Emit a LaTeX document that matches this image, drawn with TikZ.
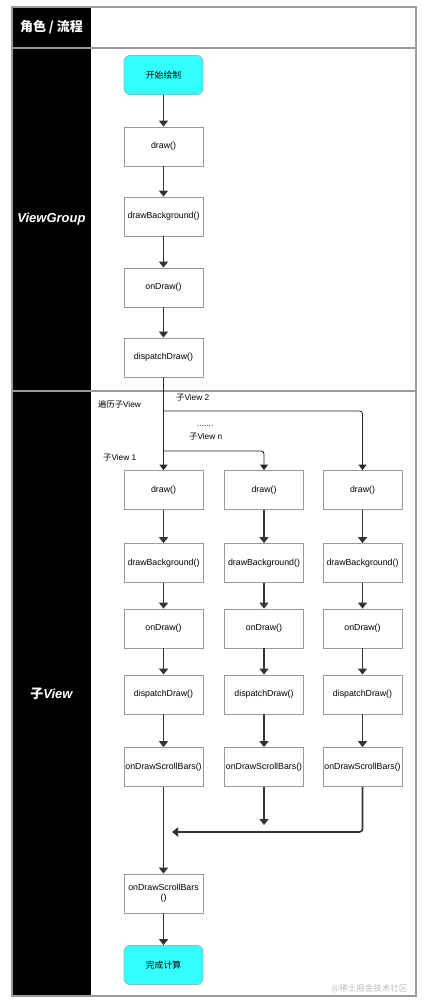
\documentclass[tikz,border=0pt]{standalone}
\usepackage{fontspec}
\setmainfont{Liberation Sans}
\newfontfamily\cjk{Noto Sans CJK SC}
\usetikzlibrary{positioning, arrows.meta}

\definecolor{startcyan}{HTML}{33FFFF}
\definecolor{framegray}{HTML}{9A9A9A}

\begin{document}
\begin{tikzpicture}[x=1pt, y=-1pt,
  font=\fontsize{8.8}{10}\selectfont,
  box/.style={draw=black!40, line width=0.8pt, fill=white,
    minimum width=79pt, minimum height=39pt, inner sep=1pt, align=center},
  terminal/.style={box, fill=startcyan, draw=teal!50, rounded corners=6pt},
  flow/.style={-{Triangle[width=9pt,length=6pt]}, line width=1.6pt, draw=black!80},
  branch/.style={-{Triangle[width=8pt,length=5.5pt]}, line width=0.9pt,
    draw=black!85, rounded corners=3pt},
  role/.style={text=white, font=\fontsize{13}{15}\selectfont\bfseries\itshape},
  note/.style={anchor=west, inner sep=0pt, font=\fontsize{8.3}{10}\selectfont}]

  \useasboundingbox (0,0) rectangle (424,1008);

  % Swimlane frame
  \fill[black] (12,7) rectangle (91,996);
  \draw[framegray, line width=1.2pt] (12,7) rectangle (416,996);
  \draw[framegray, line width=1.2pt] (12,48) -- (416,48);
  \draw[framegray, line width=1.2pt] (12,391) -- (416,391);
  \node[text=white, font=\fontsize{13}{15}\selectfont\bfseries\cjk] (title) at (51.5,27) {角色 / 流程};
  \node[role] (lanevg) at (51.5,219) {ViewGroup};
  \node[role] (lanechild) at (51.5,694) {{\cjk\upshape 子}View};

  % ViewGroup
  \node[terminal] (start) at (163.5,75) {\cjk 开始绘制};
  \node[box] (vgdraw) at (163.5,146.5) {draw()};
  \node[box] (vgbg) at (163.5,216.5) {drawBackground()};
  \node[box] (vgon) at (163.5,287.5) {onDraw()};
  \node[box] (vgdisp) at (163.5,357.5) {dispatchDraw()};

  \draw[flow] (start) -- (vgdraw);
  \draw[flow] (vgdraw) -- (vgbg);
  \draw[flow] (vgbg) -- (vgon);
  \draw[flow] (vgon) -- (vgdisp);

  % Child views
  \foreach \col/\x in {a/163.5, b/264, c/362.5} {
    \node[box] (\col draw) at (\x,490) {draw()};
    \node[box] (\col bg) at (\x,563) {drawBackground()};
    \node[box] (\col on) at (\x,628.5) {onDraw()};
    \node[box] (\col disp) at (\x,694.5) {dispatchDraw()};
    \node[box] (\col scroll) at (\x,767) {onDrawScrollBars()};
    \draw[flow] (\col draw) -- (\col bg);
    \draw[flow] (\col bg) -- (\col on);
    \draw[flow] (\col on) -- (\col disp);
    \draw[flow] (\col disp) -- (\col scroll);
  }

  \node[box, text width=75pt] (final) at (163.5,893.5) {onDrawScrollBars\\()};
  \node[terminal] (finish) at (163.5,965) {\cjk 完成计算};

  % Traverse children
  \coordinate (split2) at (163.5,411);
  \coordinate (splitn) at (163.5,451);
  \draw[branch] (vgdisp) -- (adraw);
  \draw[branch] (splitn) -| (bdraw);
  \draw[branch] (split2) -| (cdraw);
  \node[note] (traverse) at (98,404) {{\cjk 遍历子}View};
  \node[note] (lab2) at (176,398) {{\cjk 子}View 2};
  \node[note] (dots) at (197,426) {.......};
  \node[note] (labn) at (189,437) {{\cjk 子}View n};
  \node[note] (lab1) at (103,458) {{\cjk 子}View 1};

  % Merge
  \coordinate (bend) at (264,825);
  \coordinate (merge) at (172,832);
  \draw[flow] (bscroll) -- (bend);
  \draw[flow, rounded corners=3pt] (cscroll) |- (merge);
  \draw[flow] (ascroll) -- (final);
  \draw[flow] (final) -- (finish);

  \node[text=black!25, font=\fontsize{8.5}{10}\selectfont\cjk, anchor=east] (mark) at (411,989) {@稀土掘金技术社区};
\end{tikzpicture}
\end{document}
